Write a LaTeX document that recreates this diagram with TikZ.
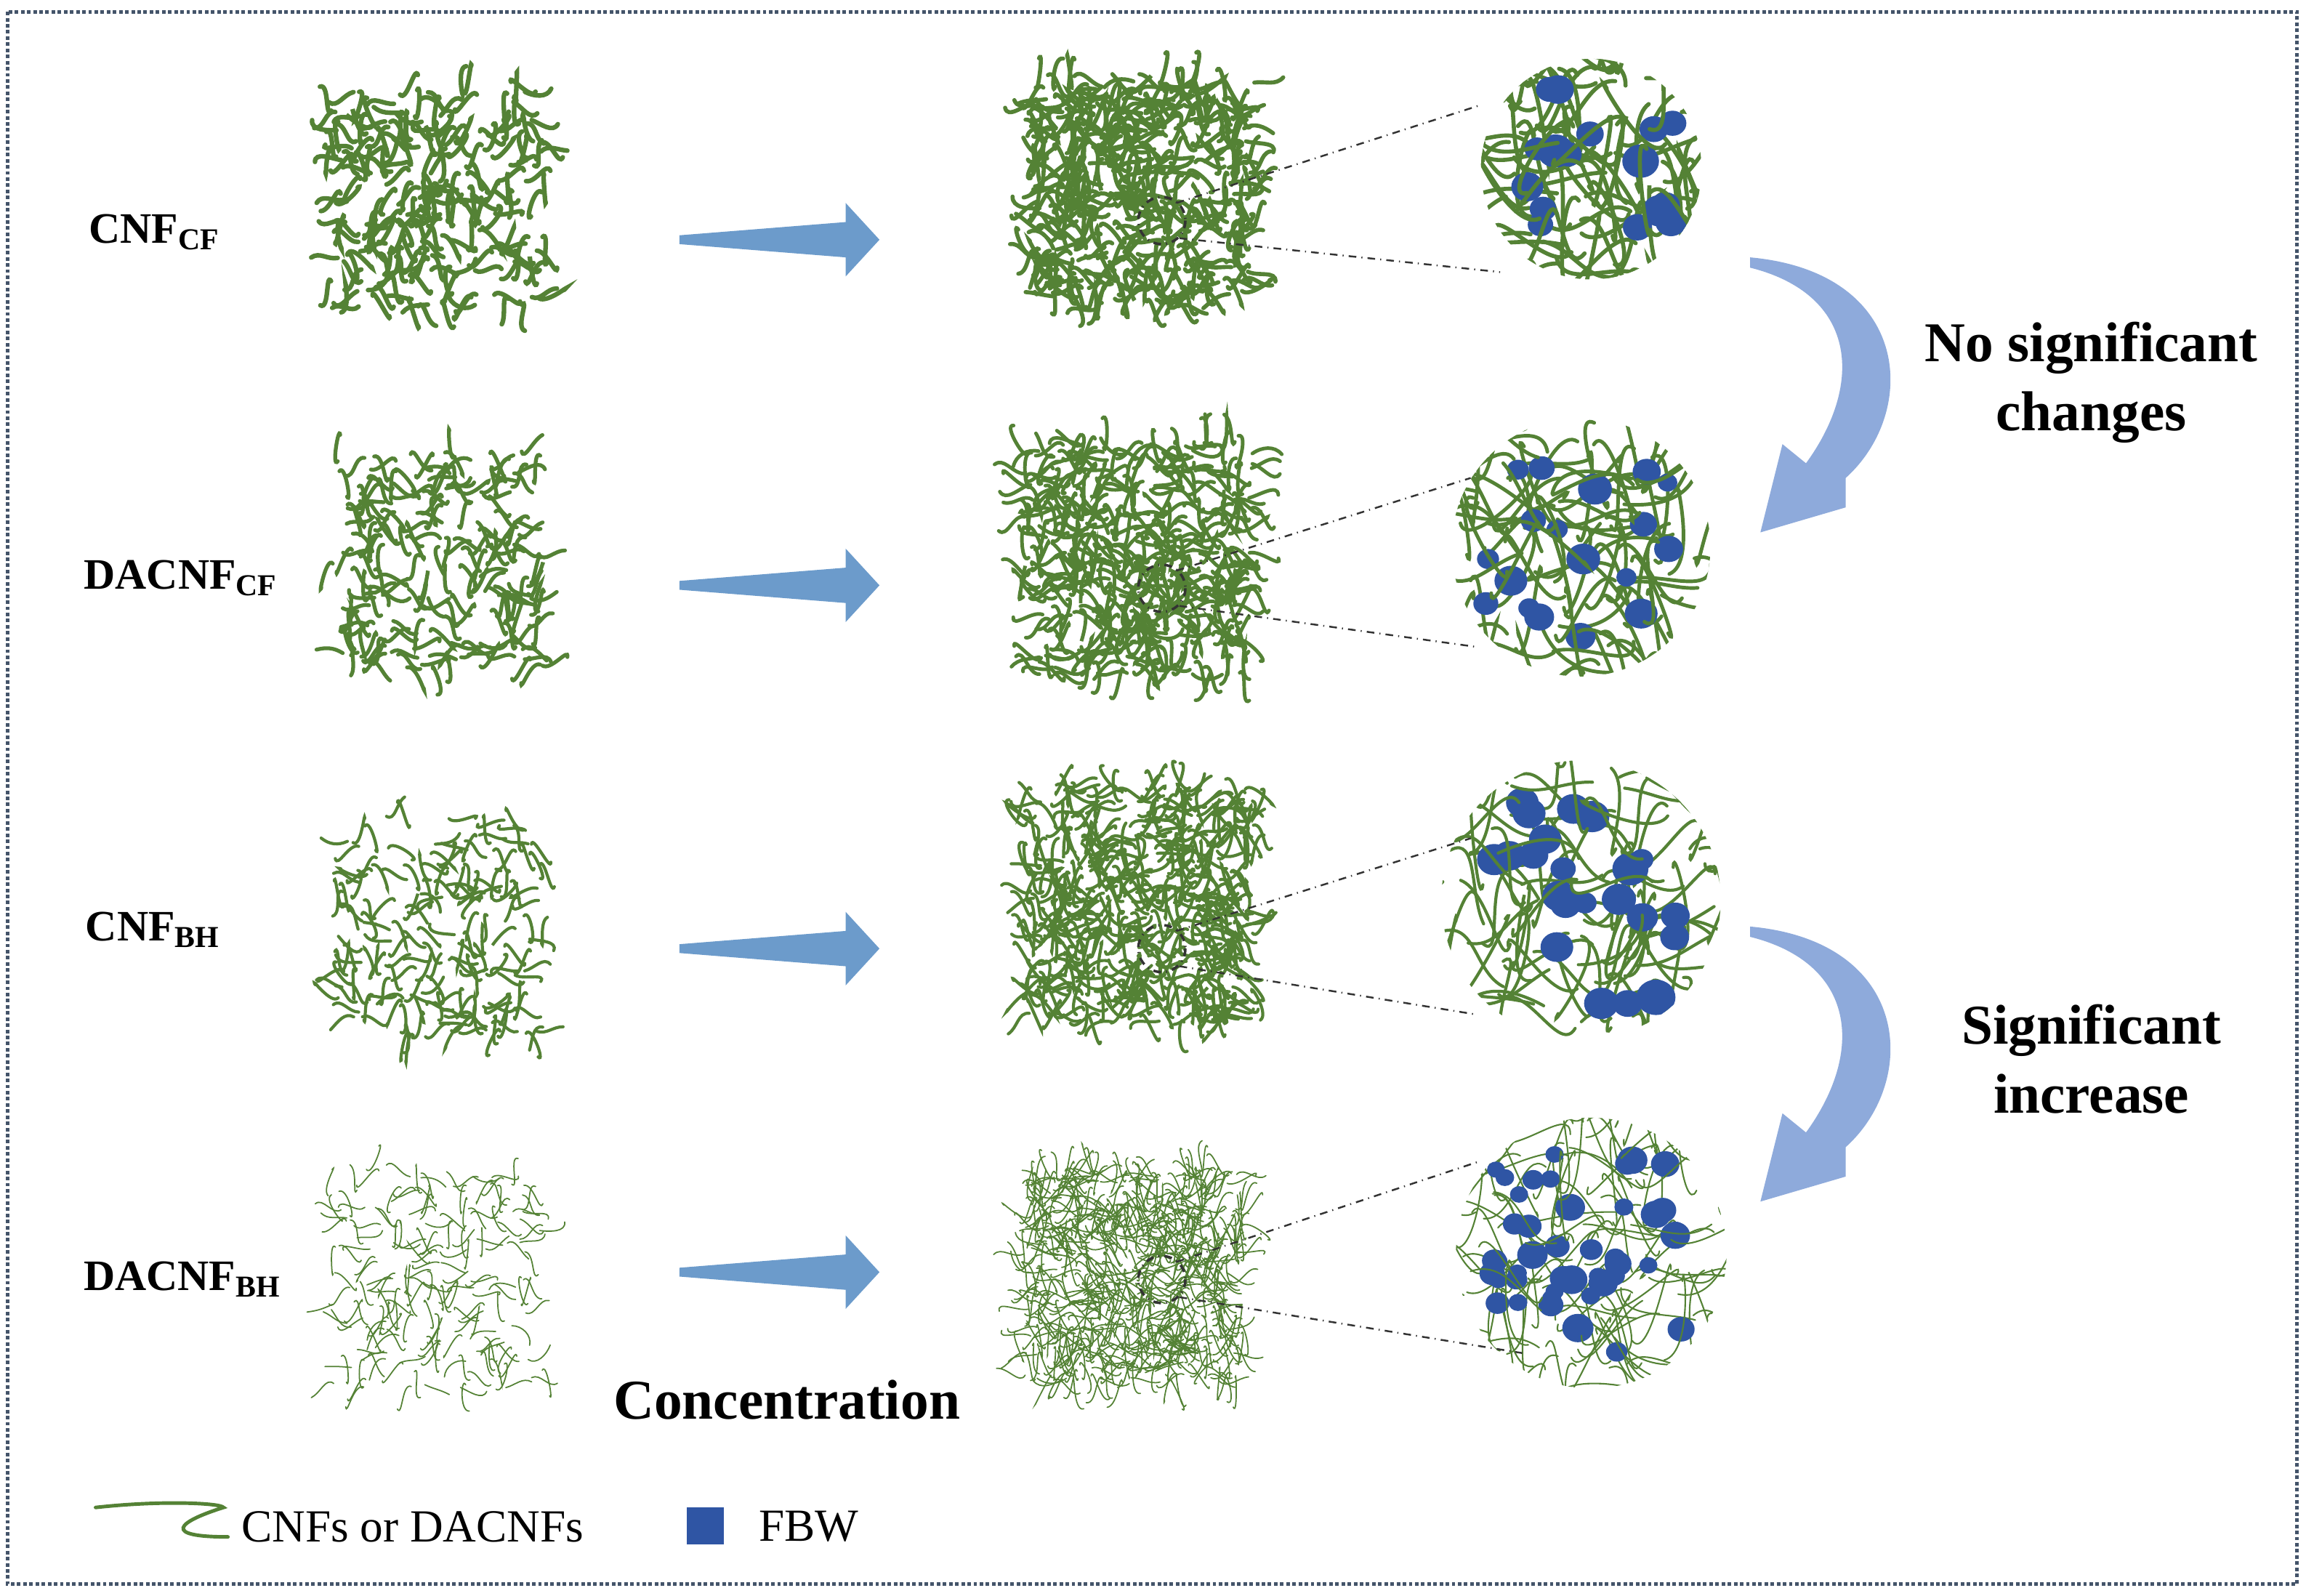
\documentclass[tikz,border=0pt]{standalone}
\usepackage{fontspec}
\setmainfont{Liberation Serif}
\usetikzlibrary{calc}
\definecolor{fibgreen}{HTML}{548235}
\definecolor{fbwblue}{HTML}{2F55A4}
\definecolor{arrblue}{HTML}{6C9BCB}
\definecolor{curvblue}{HTML}{8EAADB}
\definecolor{frame}{HTML}{44546A}
\tikzset{
  fiber/.style={draw=fibgreen,line cap=round},
  blob/.style={fill=fbwblue,draw=none},
  zoomline/.style={draw=black!80,dash dot,line width=0.7pt},
  lab/.style={font=\fontsize{17}{20}\selectfont\bfseries},
  big/.style={font=\fontsize{22}{27}\selectfont\bfseries,align=center},
  leg/.style={font=\fontsize{18}{22}\selectfont}
}
% x0, y0, w, h, count, line width, segment length
\newcommand\fibpatch[7]{%
  \foreach \k in {1,...,#5}{
    \pgfmathsetmacro\px{#1+rnd*#3}
    \pgfmathsetmacro\py{#2+rnd*#4}
    \pgfmathsetmacro\aa{rnd*360}
    \pgfmathsetmacro\bb{\aa+180+rand*110}
    \pgfmathsetmacro\cc{\aa+rand*50}
    \draw[fiber,line width=#6] (\px,\py) to[out=\aa,in=\bb] ++(\cc:#7);
  }}
% cx, cy, r, blobs, blob size, fibers, line width
\newcommand\zoomdisc[7]{%
  \begin{scope}
    \clip (#1,#2) circle (#3);
    \fibpatch{#1-#3}{#2-#3}{2*#3}{2*#3}{#6}{#7}{55}
    \foreach \k in {1,...,#4}{
      \pgfmathsetmacro\bx{#1+rand*#3*0.75}
      \pgfmathsetmacro\by{#2+rand*#3*0.75}
      \pgfmathsetmacro\bs{#5*(0.6+0.5*rnd)}
      \fill[blob] (\bx,\by) ellipse ({\bs*1.1} and \bs);
    }
    \fibpatch{#1-#3}{#2-#3}{2*#3}{2*#3}{25}{#7}{55}
  \end{scope}}
\begin{document}
\begin{tikzpicture}[x=0.02024cm,y=-0.02024cm]
  \pgfmathsetseed{11}
  \useasboundingbox (0,0) rectangle (1568,1085);
  \draw[frame,densely dotted,line width=1.4pt] (5,8) rectangle (1562,1077);

  % row labels
  \node[lab] (lcnfcf) at (105,158) {CNF\textsubscript{CF}};
  \node[lab] (ldacf) at (123,393) {DACNF\textsubscript{CF}};
  \node[lab] (lcnfbh) at (104,632) {CNF\textsubscript{BH}};
  \node[lab] (ldabh) at (124,870) {DACNF\textsubscript{BH}};

  % left patches
  \fibpatch{225}{60}{145}{150}{210}{1.8pt}{18}
  \fibpatch{225}{305}{145}{150}{190}{1.5pt}{18}
  \fibpatch{225}{555}{145}{150}{170}{1.2pt}{18}
  \fibpatch{225}{795}{145}{150}{180}{0.5pt}{18}

  % middle patches
  \fibpatch{698}{55}{155}{155}{420}{1.6pt}{20}
  \fibpatch{695}{300}{158}{160}{420}{1.4pt}{20}
  \fibpatch{695}{535}{158}{160}{480}{1.2pt}{20}
  \fibpatch{695}{795}{150}{145}{650}{0.5pt}{20}

  % zoom discs
  \zoomdisc{1082}{115}{75}{16}{11}{70}{1.6pt}
  \zoomdisc{1075}{372}{88}{18}{10}{75}{1.4pt}
  \zoomdisc{1075}{612}{95}{22}{11}{85}{1.2pt}
  \zoomdisc{1082}{852}{92}{45}{9}{110}{0.6pt}

  % zoom guides
  \foreach \r/\sy/\ty/\by/\tx/\bx in {1/150/72/185/1005/1020,2/400/325/440/1000/1005,3/645/570/690/1000/1005,4/870/790/920/1005/1035}{
    \coordinate (s\r) at (790,\sy);
    \coordinate (t\r) at (\tx,\ty);
    \coordinate (b\r) at (\bx,\by);
    \draw[zoomline,line width=1pt] (s\r) circle (16);
    \draw[zoomline] ($(s\r)+(10,-12)$) -- (t\r);
    \draw[zoomline] ($(s\r)+(12,12)$) -- (b\r);
  }

  % block arrows
  \foreach \y in {163,398,645,865}{
    \fill[arrblue] (462,\y-3) -- (575,\y-12) -- (575,\y-25) -- (598,\y)
      -- (575,\y+25) -- (575,\y+12) -- (462,\y+3) -- cycle;
  }

  % curved arrows
  \foreach \y in {0,455}{
    \fill[curvblue] (1190,175+\y) .. controls (1300,185+\y) and (1305,280+\y) .. (1255,325+\y)
      -- (1255,345+\y) -- (1197,362+\y) -- (1212,302+\y) -- (1228,315+\y)
      .. controls (1268,260+\y) and (1262,200+\y) .. (1190,182+\y) -- cycle;
  }

  \node[big] (nochg) at (1422,260) {No significant\\changes};
  \node[big] (sigin) at (1422,720) {Significant\\increase};
  \node[big] (conc) at (535,952) {Concentration};

  % legend
  \draw[fiber,line width=1.4pt] (65,1025) .. controls (110,1020) and (150,1022) .. (152,1025)
    .. controls (120,1035) and (110,1045) .. (155,1045);
  \node[leg,anchor=west] (lfib) at (158,1038) {CNFs or DACNFs};
  \fill[blob] (467,1025) rectangle (492,1050);
  \node[leg,anchor=west] (lfbw) at (510,1038) {FBW};
\end{tikzpicture}
\end{document}
